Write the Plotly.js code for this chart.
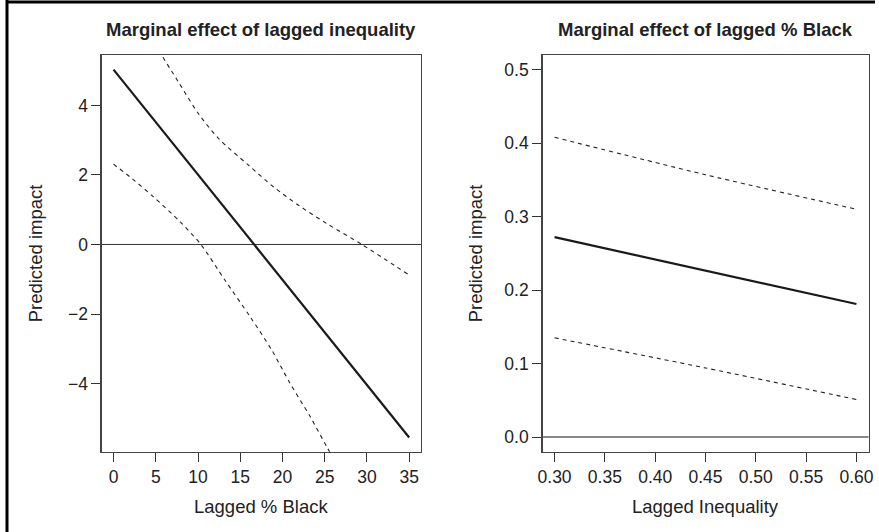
<!DOCTYPE html>
<html>
<head>
<meta charset="utf-8">
<script src="https://cdn.plot.ly/plotly-3.0.1.min.js"></script>
<style>html,body{margin:0;padding:0;background:#fff;}#chart{width:879px;height:532px;}</style>
</head>
<body>
<div id="chart"></div>
<script>
// ---- Left panel: marginal effect of lagged inequality vs lagged % Black ----
const leftFitX = [0, 35];
const leftFitY = [5.03, -5.55];
const leftUpperX = [0, 5, 7.69, 10.06, 12.43, 15.98, 18.93, 21.89, 25.25, 29.4, 35];
const leftUpperY = [7.75, 5.72, 4.67, 3.76, 3.05, 2.28, 1.66, 1.13, 0.60, 0.0, -0.88];
const leftLowerX = [0, 2.17, 4.73, 7.89, 10.34, 13.2, 16.18, 18.74, 20.91, 23.28, 25.25, 30, 35];
const leftLowerY = [2.31, 1.90, 1.37, 0.65, 0.0, -1.03, -2.08, -3.04, -4.0, -4.95, -5.82, -7.88, -10.2];
const leftXTicks = [0, 5, 10, 15, 20, 25, 30, 35];
const leftYTicks = [-4, -2, 0, 2, 4];

// ---- Right panel: marginal effect of lagged % Black vs lagged inequality ----
const rightFitX = [0.30, 0.60];
const rightFitY = [0.272, 0.181];
const rightUpperX = [0.30, 0.45, 0.60];
const rightUpperY = [0.408, 0.357, 0.310];
const rightLowerX = [0.30, 0.45, 0.60];
const rightLowerY = [0.135, 0.094, 0.051];
const rightXTicks = [0.30, 0.35, 0.40, 0.45, 0.50, 0.55, 0.60];
const rightYTicks = [0.0, 0.1, 0.2, 0.3, 0.4, 0.5];

const titles = ["Marginal effect of lagged inequality", "Marginal effect of lagged % Black"];
const xTitles = ["Lagged % Black", "Lagged Inequality"];
const yTitle = "Predicted impact";

const W = 879, H = 532;
const FONT = "Liberation Sans, Arial, Helvetica, sans-serif";
const TXT = "#222";

const solid = {color: "#1a1a1a", width: 2.2};
const dashed = {color: "#222", width: 1.1, dash: "4px,4px", shape: "spline", smoothing: 0.8};

const traces = [
  {x: leftFitX, y: leftFitY, xaxis: "x", yaxis: "y", mode: "lines", line: solid},
  {x: leftUpperX, y: leftUpperY, xaxis: "x", yaxis: "y", mode: "lines", line: dashed},
  {x: leftLowerX, y: leftLowerY, xaxis: "x", yaxis: "y", mode: "lines", line: dashed},
  {x: rightFitX, y: rightFitY, xaxis: "x2", yaxis: "y2", mode: "lines", line: solid},
  {x: rightUpperX, y: rightUpperY, xaxis: "x2", yaxis: "y2", mode: "lines", line: dashed},
  {x: rightLowerX, y: rightLowerY, xaxis: "x2", yaxis: "y2", mode: "lines", line: dashed}
];

// panel pixel boxes
const L = {x0: 101.7, x1: 421, y0: 55, y1: 451.7};
const R = {x0: 542.5, x1: 868.5, y0: 55, y1: 451.7};
const px = v => v / W;
const py = v => 1 - v / H;

const axisCommon = {
  showgrid: false, zeroline: false, showline: true, mirror: true,
  linecolor: "#444", linewidth: 1.3,
  ticks: "outside", ticklen: 9, tickwidth: 1, tickcolor: "#333",
  tickfont: {family: FONT, size: 17.5, color: TXT},
  fixedrange: true
};

const layout = {
  width: W, height: H,
  margin: {l: 0, r: 0, t: 0, b: 0},
  paper_bgcolor: "#fff", plot_bgcolor: "#fff",
  showlegend: false,
  xaxis: Object.assign({}, axisCommon, {
    domain: [px(L.x0), px(L.x1)], anchor: "y",
    range: [-1.4, 36.4], tickmode: "array", tickvals: leftXTicks,
    ticktext: leftXTicks.map(String)
  }),
  yaxis: Object.assign({}, axisCommon, {
    domain: [py(L.y1), py(L.y0)], anchor: "x",
    range: [-5.96, 5.45], tickmode: "array", tickvals: leftYTicks,
    ticktext: leftYTicks.map(v => v < 0 ? "\u2212" + Math.abs(v) : String(v))
  }),
  xaxis2: Object.assign({}, axisCommon, {
    domain: [px(R.x0), px(R.x1)], anchor: "y2",
    range: [0.288, 0.612], tickmode: "array", tickvals: rightXTicks,
    ticktext: rightXTicks.map(v => v.toFixed(2))
  }),
  yaxis2: Object.assign({}, axisCommon, {
    domain: [py(R.y1), py(R.y0)], anchor: "x2",
    range: [-0.02, 0.52], tickmode: "array", tickvals: rightYTicks,
    ticktext: rightYTicks.map(v => v.toFixed(1))
  }),
  shapes: [
    {type: "line", xref: "x domain", yref: "y", x0: 0, x1: 1, y0: 0, y1: 0,
     line: {color: "#333", width: 1}, layer: "below"},
    {type: "line", xref: "x2 domain", yref: "y2", x0: 0, x1: 1, y0: 0, y1: 0,
     line: {color: "#888", width: 2}, layer: "below"},
    // outer frame (left and top edges)
    {type: "line", xref: "paper", yref: "paper", x0: px(7), x1: px(7), y0: 0, y1: 1,
     line: {color: "#000", width: 3}},
    {type: "line", xref: "paper", yref: "paper", x0: px(6), x1: px(875), y0: py(2), y1: py(2),
     line: {color: "#000", width: 3}}
  ],
  annotations: [
    {text: "<b>" + titles[0] + "</b>", xref: "paper", yref: "paper",
     x: px((L.x0 + L.x1) / 2), y: py(29), xanchor: "center", yanchor: "middle",
     showarrow: false, font: {family: FONT, size: 18.5, color: TXT}},
    {text: "<b>" + titles[1] + "</b>", xref: "paper", yref: "paper",
     x: px((R.x0 + R.x1) / 2), y: py(29), xanchor: "center", yanchor: "middle",
     showarrow: false, font: {family: FONT, size: 18.5, color: TXT}},
    {text: xTitles[0], xref: "paper", yref: "paper",
     x: px((L.x0 + L.x1) / 2), y: py(506), xanchor: "center", yanchor: "middle",
     showarrow: false, font: {family: FONT, size: 18.5, color: TXT}},
    {text: xTitles[1], xref: "paper", yref: "paper",
     x: px((R.x0 + R.x1) / 2), y: py(506), xanchor: "center", yanchor: "middle",
     showarrow: false, font: {family: FONT, size: 18.5, color: TXT}},
    {text: yTitle, xref: "paper", yref: "paper", textangle: -90,
     x: px(35), y: py((L.y0 + L.y1) / 2), xanchor: "center", yanchor: "middle",
     showarrow: false, font: {family: FONT, size: 18.5, color: TXT}},
    {text: yTitle, xref: "paper", yref: "paper", textangle: -90,
     x: px(475), y: py((R.y0 + R.y1) / 2), xanchor: "center", yanchor: "middle",
     showarrow: false, font: {family: FONT, size: 18.5, color: TXT}}
  ]
};

Plotly.newPlot("chart", traces, layout, {staticPlot: true, displayModeBar: false});
</script>
</body>
</html>
